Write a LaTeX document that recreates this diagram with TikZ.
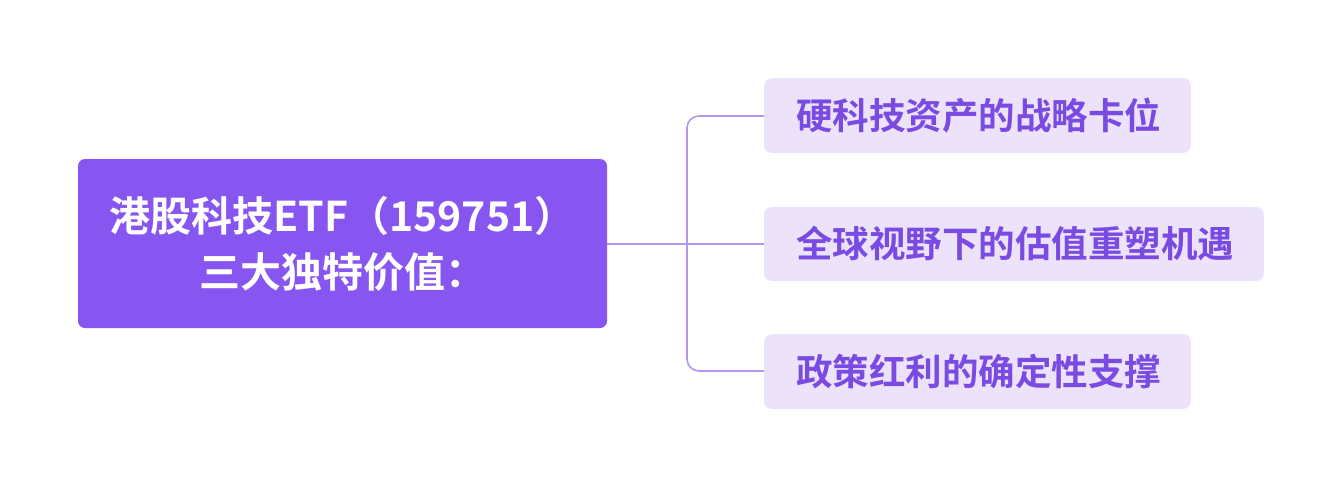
\documentclass[tikz,border=0pt]{standalone}
\usepackage{fontspec}
\newfontfamily\cjk{Noto Sans CJK SC}[BoldFont={Noto Sans CJK SC Bold}]
\usetikzlibrary{positioning}
\definecolor{rootpurple}{HTML}{8755F0}
\definecolor{leaffill}{HTML}{ECE3FB}
\definecolor{leaftext}{HTML}{7A4BE2}
\definecolor{linkline}{HTML}{B495F3}
\tikzset{
  rootbox/.style={text=white, align=center,
    font=\cjk\bfseries\fontsize{41}{56}\selectfont},
  leafbox/.style={text=leaftext, anchor=west,
    inner xsep=0pt, font=\cjk\bfseries\fontsize{36.5}{40}\selectfont},
  link/.style={linkline, line width=1.6pt, rounded corners=12pt}
}
\begin{document}
\begin{tikzpicture}[x=1pt,y=-1pt]
	\useasboundingbox (0,0) rectangle (1343,488);
	\fill[rootpurple, rounded corners=7pt] (78,159) rectangle (607,328);
	\node[rootbox] (root) at (342.5,243.5) {港股科技ETF（159751）\\三大独特价值：};
	\fill[leaffill, rounded corners=8pt] (764,78) rectangle (1191,153);
	\node[leafbox] (tech) at (796,116) {硬科技资产的战略卡位};
	\fill[leaffill, rounded corners=8pt] (764,207) rectangle (1264,281);
	\node[leafbox] (value) at (796,244) {全球视野下的估值重塑机遇};
	\fill[leaffill, rounded corners=8pt] (764,334) rectangle (1191,409);
	\node[leafbox] (policy) at (796,371) {政策红利的确定性支撑};
	\coordinate (fork) at (687,244);
	\coordinate (e1) at (764,116);
	\coordinate (e2) at (764,244);
	\coordinate (e3) at (764,371);
	\draw[link] (607,244) -- (e2);
	\draw[link] (fork) |- (e1);
	\draw[link] (fork) |- (e3);
\end{tikzpicture}
\end{document}
